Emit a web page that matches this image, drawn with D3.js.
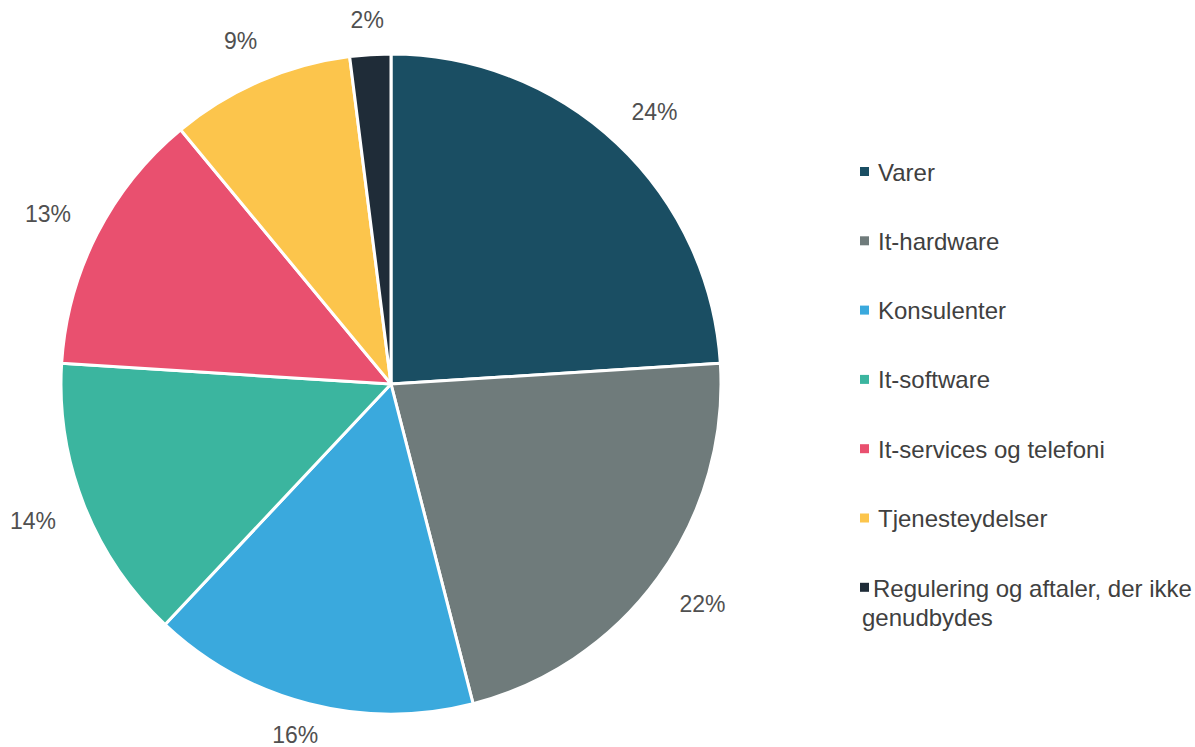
<!DOCTYPE html>
<html>
<head>
<meta charset="utf-8">
<script src="https://cdn.jsdelivr.net/npm/d3@7"></script>
<style>
  body { margin: 0; background: #fff; }
  svg text { font-family: "Liberation Sans", Arial, sans-serif; }
</style>
</head>
<body>
<div id="chart"></div>
<script>
document.addEventListener("DOMContentLoaded", () => {

// Data
const categories = [
  "Varer",
  "It-hardware",
  "Konsulenter",
  "It-software",
  "It-services og telefoni",
  "Tjenesteydelser",
  "Regulering og aftaler, der ikke genudbydes"
];
const values = [24, 22, 16, 14, 13, 9, 2];
const labels = ["24%", "22%", "16%", "14%", "13%", "9%", "2%"];
const colors = ["#1a4e63", "#6f7b7b", "#3aa9dd", "#3bb59f", "#e9506f", "#fcc54c", "#1f2c38"];

// Config
const width = 1195;
const height = 747;
const cx = 391, cy = 384, radius = 330;
const labelGap = 32;
const fontSize = 23;
const legendFont = 24;

const svg = d3.select("#chart")
  .append("svg")
  .attr("width", width)
  .attr("height", height);

const pie = d3.pie().sort(null).value(d => d.value);
const arcs = pie(categories.map((c, i) => ({ name: c, value: values[i], label: labels[i], color: colors[i] })));

const arc = d3.arc().innerRadius(0).outerRadius(radius);

const g = svg.append("g").attr("transform", `translate(${cx},${cy})`);

// Slices
g.selectAll("path")
  .data(arcs)
  .join("path")
  .attr("d", arc)
  .attr("fill", d => d.data.color)
  .attr("stroke", "#fff")
  .attr("stroke-width", 3)
  .attr("stroke-linejoin", "round");

// Percent labels outside the pie
const measure = svg.append("text").attr("font-size", fontSize).attr("visibility", "hidden");
g.selectAll("text.pct")
  .data(arcs)
  .join("text")
  .attr("class", "pct")
  .attr("font-size", fontSize)
  .attr("fill", "#505050")
  .attr("text-anchor", "middle")
  .attr("dominant-baseline", "central")
  .text(d => d.data.label)
  .each(function (d) {
    measure.text(d.data.label);
    const w = measure.node().getComputedTextLength();
    const h = fontSize;
    const a = (d.startAngle + d.endAngle) / 2;
    const r0 = radius + labelGap;
    let x = Math.sin(a) * r0 + Math.sin(a) * w / 2;
    let y = -Math.cos(a) * r0 - Math.cos(a) * h / 2;
    // keep labels inside the frame
    y = Math.max(-cy + 20, Math.min(height - cy - 12, y));
    d3.select(this).attr("x", x).attr("y", y);
  });
measure.remove();

// Legend
const legend = svg.append("g").attr("transform", "translate(860,172)");
const step = 69.3;

const items = legend.selectAll("g")
  .data(arcs)
  .join("g")
  .attr("transform", (d, i) => `translate(0,${i * step})`);

items.append("rect")
  .attr("x", 0)
  .attr("y", -5)
  .attr("width", 9)
  .attr("height", 9)
  .attr("fill", d => d.data.color);

items.append("text")
  .attr("x", 18)
  .attr("y", 0)
  .attr("font-size", legendFont)
  .attr("fill", "#404040")
  .attr("dominant-baseline", "central")
  .each(function (d) {
    const t = d3.select(this);
    const name = d.data.name;
    if (name.length > 30) {
      const cut = name.lastIndexOf(" ", 31);
      t.append("tspan").attr("x", 13).text(name.slice(0, cut));
      t.append("tspan").attr("x", 2).attr("dy", 29).text(name.slice(cut + 1));
    } else {
      t.text(name);
    }
  });

});
</script>
</body>
</html>
